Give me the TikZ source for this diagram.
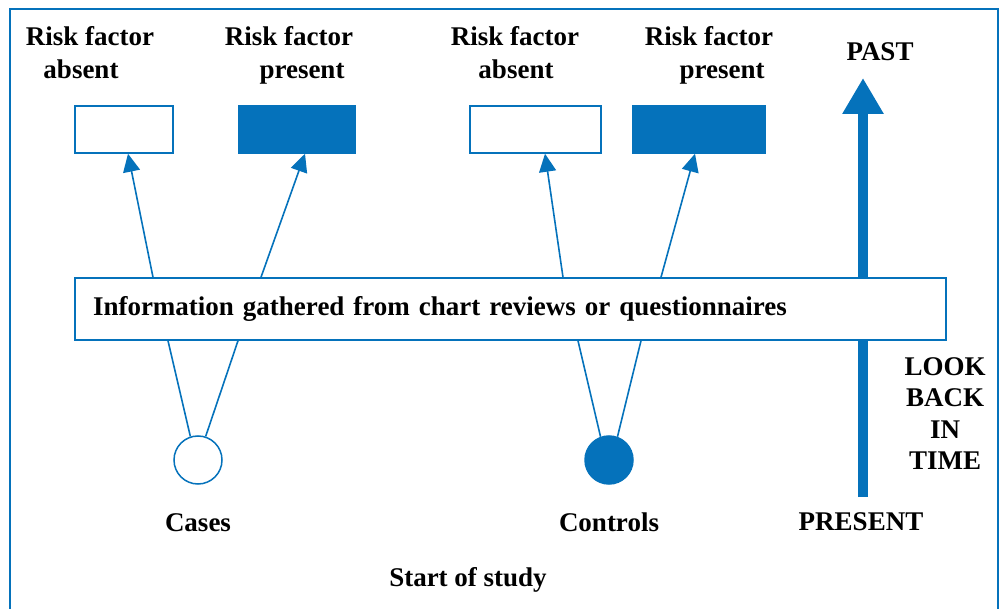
\documentclass[tikz,border=0pt]{standalone}
\usepackage{fontspec}
\setmainfont{Liberation Serif}
\usetikzlibrary{arrows.meta}
\definecolor{cblue}{RGB}{5,114,187}
\tikzset{
  lbl/.style={font=\fontsize{27}{31.5}\selectfont\bfseries, align=center, inner sep=0pt, text=black},
  bl/.style={lbl, anchor=base},
  openbox/.style={draw=cblue, line width=1.5pt, fill=white, minimum height=47pt, inner sep=0pt},
  fullbox/.style={draw=cblue, line width=1.5pt, fill=cblue, minimum height=47pt, inner sep=0pt},
  arr/.style={draw=cblue, line width=1.6pt, -{Triangle[length=18pt,width=17pt]}},
  ln/.style={draw=cblue, line width=1.6pt},
  grp/.style={circle, draw=cblue, line width=1.5pt, minimum size=48pt, inner sep=0pt}
}
\begin{document}
\begin{tikzpicture}[x=1pt,y=-1pt]
\useasboundingbox (0,0) rectangle (1001,609);
% frame
\draw[cblue, line width=2pt] (9.5,609) -- (9.5,9.5) -- (998,9.5) -- (998,609);
% labels
\node[bl] (l1a) at (90,46) {Risk factor};
\node[bl] (l1b) at (81,79) {absent};
\node[bl] (l2a) at (289,46) {Risk factor};
\node[bl] (l2b) at (302,79) {present};
\node[bl] (l3a) at (515,46) {Risk factor};
\node[bl] (l3b) at (516,79) {absent};
\node[bl] (l4a) at (709,46) {Risk factor};
\node[bl] (l4b) at (722,79) {present};
% boxes
\node[openbox, minimum width=98pt] (b1) at (124,129.5) {};
\node[fullbox, minimum width=116pt] (b2) at (297,129.5) {};
\node[openbox, minimum width=131pt] (b3) at (535.5,129.5) {};
\node[fullbox, minimum width=132pt] (b4) at (699,129.5) {};
% time arrow
\coordinate (tbot) at (863,497);
\coordinate (ttop) at (863,78);
\draw[cblue, line width=10pt, -{Triangle[length=36pt,width=39pt]}] (tbot) -- (ttop);
% info box
\node[draw=cblue, line width=1.5pt, fill=white, minimum height=62pt, text width=835pt, inner xsep=18pt, inner ysep=0pt, align=left, font=\fontsize{27}{31.5}\selectfont\bfseries] (info) at (510.5,309) {Information gathered from chart reviews or questionnaires};
% arrows up
\draw[arr] (info.north -| 153,0) -- (b1.south -| 128,0);
\draw[arr] (info.north -| 261,0) -- (b2.south -| 305,0);
\draw[arr] (info.north -| 563,0) -- (b3.south -| 545,0);
\draw[arr] (info.north -| 661,0) -- (b4.south -| 695,0);
% groups
\node[grp, fill=white] (cases) at (198,460) {};
\node[grp, fill=cblue] (ctrl) at (609,460) {};
\draw[ln] (info.south -| 168,0) -- (cases.108);
\draw[ln] (info.south -| 238,0) -- (cases.72);
\draw[ln] (info.south -| 578,0) -- (ctrl.110);
\draw[ln] (info.south -| 641,0) -- (ctrl.70);
% text labels
\node[lbl] (tcases) at (198,523) {Cases};
\node[lbl] (tctrl) at (609,522) {Controls};
\node[lbl] (tpres) at (861,522) {PRESENT};
\node[lbl] (tpast) at (880,52) {PAST};
\node[lbl] (tlook) at (945,413.5) {LOOK\\BACK\\IN\\TIME};
\node[lbl] (tstart) at (468,580) {Start of study};
\end{tikzpicture}
\end{document}
